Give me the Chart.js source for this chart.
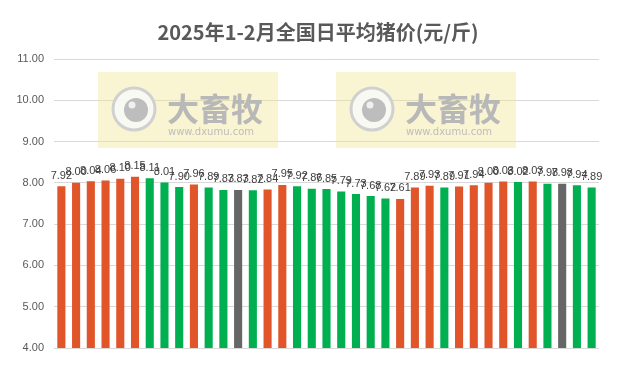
<!DOCTYPE html>
<html><head><meta charset="utf-8">
<script src="https://cdn.jsdelivr.net/npm/chart.js@4/dist/chart.umd.min.js"></script>
<style>html,body{margin:0;padding:0;background:#fff}#wrap{width:627px;height:373px}</style>
</head><body><div id="wrap"><canvas id="c" width="627" height="373"></canvas></div>
<script>
const titleText = '2025年1-2月全国日平均猪价(元/斤)';
const categories = ['1月1日','1月2日','1月3日','1月4日','1月5日','1月6日','1月7日','1月8日','1月9日','1月10日','1月11日','1月12日','1月13日','1月14日','1月15日','1月16日','1月17日','1月18日','1月19日','1月20日','1月21日','1月22日','1月23日','1月24日','1月25日','1月26日','1月27日','1月28日','1月29日','1月30日','1月31日','2月1日','2月2日','2月3日','2月4日','2月5日','2月6日'];
const values = [7.92,8.00,8.04,8.06,8.10,8.15,8.11,8.01,7.90,7.96,7.89,7.83,7.83,7.82,7.84,7.95,7.92,7.86,7.85,7.79,7.73,7.68,7.62,7.61,7.89,7.93,7.89,7.91,7.94,8.00,8.03,8.02,8.03,7.98,7.98,7.94,7.89];
const trend = ['up','up','up','up','up','up','down','down','down','up','down','down','flat','down','up','up','down','down','down','down','down','down','down','up','up','up','down','up','up','up','up','down','up','down','flat','down','down'];
const yTicks = [4,5,6,7,8,9,10,11];
const trendColors = {up:'#E0552A', down:'#00B050', flat:'#666666'};

const chartTitle = {
  id:'chartTitle',
  afterDraw(chart){
    const ctx=chart.ctx;
    ctx.save();
    ctx.font='bold 20px "Noto Sans CJK SC"';
    ctx.fillStyle='#595959';
    ctx.textAlign='center';ctx.textBaseline='middle';
    ctx.fillText(titleText, 318, 32);
    ctx.restore();
  }
};

const watermark = {
  id:'watermark',
  beforeDatasetsDraw(chart){
    const ctx = chart.ctx;
    [98, 336].forEach(x0=>{
      ctx.save();
      ctx.fillStyle='rgba(240,228,140,0.40)';
      ctx.fillRect(x0,72,180,76);
      const cx=x0+36, cy=109;
      ctx.beginPath();ctx.arc(cx,cy,21,0,Math.PI*2);
      ctx.fillStyle='rgba(250,250,248,0.9)';ctx.fill();
      ctx.lineWidth=3;ctx.strokeStyle='#D0D0D0';ctx.stroke();
      ctx.beginPath();ctx.arc(cx+2,cy+1,12,0,Math.PI*2);
      ctx.fillStyle='#BDBDBD';ctx.fill();
      ctx.beginPath();ctx.arc(cx-2,cy-4,3.5,0,Math.PI*2);
      ctx.fillStyle='#F0F0F0';ctx.fill();
      ctx.fillStyle='#B8B8B8';
      ctx.font='bold 32px "Noto Sans CJK SC"';
      ctx.textBaseline='alphabetic';ctx.textAlign='left';
      ctx.fillText('大畜牧', x0+69, 121);
      ctx.fillStyle='#BDBDBD';
      ctx.font='10px "DejaVu Sans"';
      ctx.fillText('www.dxumu.com', x0+70, 135);
      ctx.restore();
    });
  }
};

const dataLabels = {
  id:'dataLabels',
  afterDatasetsDraw(chart){
    const ctx=chart.ctx;
    const meta=chart.getDatasetMeta(0);
    ctx.save();
    ctx.font='11px "Liberation Sans"';
    ctx.fillStyle='#404040';
    ctx.textAlign='center';ctx.textBaseline='bottom';
    meta.data.forEach((el,i)=>{
      ctx.fillText(values[i].toFixed(2), el.x, el.y-5);
    });
    ctx.restore();
  }
};

new Chart(document.getElementById('c'),{
  type:'bar',
  data:{labels:categories,datasets:[{data:values,backgroundColor:trend.map(t=>trendColors[t]),barPercentage:0.55,categoryPercentage:1.0}]},
  options:{
    responsive:false,animation:false,
    layout:{padding:{left:0,right:28,top:59,bottom:17}},
    plugins:{legend:{display:false},tooltip:{enabled:false},title:{display:false}},
    scales:{
      x:{ticks:{display:false},grid:{display:false},border:{display:false}},
      y:{min:4,max:11,afterFit(s){s.width=54;},
        afterBuildTicks(s){s.ticks=yTicks.map(v=>({value:v}));},
        ticks:{padding:10,color:'#595959',font:{family:'"Liberation Sans"',size:11},callback:v=>Number(v).toFixed(2)},
        grid:{color:'#D9D9D9',drawTicks:false},border:{display:false}}
    }
  },
  plugins:[watermark,dataLabels,chartTitle]
});
</script>
</body></html>
